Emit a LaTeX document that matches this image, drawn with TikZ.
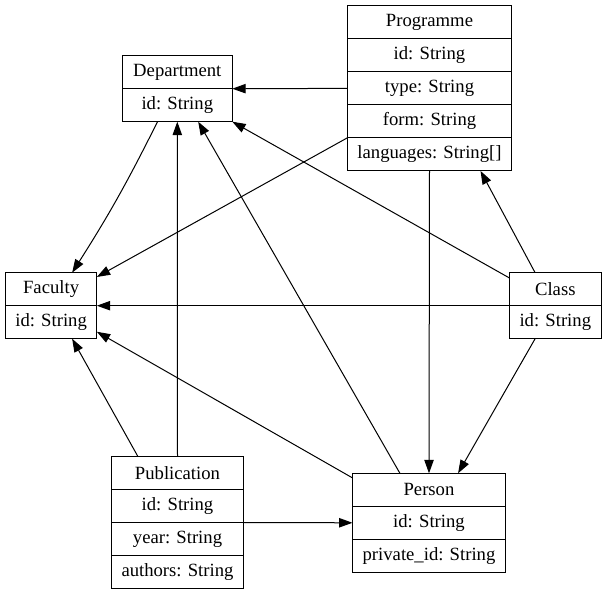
\documentclass[tikz,border=0pt]{standalone}
\usepackage{fontspec}
\setmainfont{Liberation Serif}
\usepackage{tikz}
\usetikzlibrary{calc}
\usetikzlibrary{positioning,arrows.meta}

\tikzset{
	record/.style={draw, inner sep=0pt, outer sep=0pt, minimum height=24.75pt,
		font=\fontsize{14pt}{17pt}\selectfont},
}

\begin{document}
\begin{tikzpicture}[x=0.75pt, y=-0.75pt, line width=0.75pt, >={Triangle[length=10pt,width=7pt]}]

	\useasboundingbox (0,0) rectangle (604,595);

	% department
	\node[record, minimum width=82.5pt] (dept) at (177.3,72.2) {Department};
	\node[record, minimum width=82.5pt, below=0pt of dept] (dept-id) {id: String};

	% programme
	\node[record, minimum width=123.4pt] (prog) at (429.5,22.4) {Programme};
	\node[record, minimum width=123.4pt, below=0pt of prog] (prog-id) {id: String};
	\node[record, minimum width=123.4pt, below=0pt of prog-id] (prog-type) {type: String};
	\node[record, minimum width=123.4pt, below=0pt of prog-type] (prog-form) {form: String};
	\node[record, minimum width=123.4pt, below=0pt of prog-form] (prog-lang) {languages: String[]};

	% faculty
	\node[record, minimum width=68.6pt] (fac) at (51.1,289.2) {Faculty};
	\node[record, minimum width=68.6pt, below=0pt of fac] (fac-id) {id: String};

	% class
	\node[record, minimum width=68.8pt] (cls) at (555.3,289.2) {Class};
	\node[record, minimum width=68.8pt, below=0pt of cls] (cls-id) {id: String};

	% publication
	\node[record, minimum width=99pt] (pub) at (177.5,473) {Publication};
	\node[record, minimum width=99pt, below=0pt of pub] (pub-id) {id: String};
	\node[record, minimum width=99pt, below=0pt of pub-id] (pub-year) {year: String};
	\node[record, minimum width=99pt, below=0pt of pub-year] (pub-auth) {authors: String};

	% person
	\node[record, minimum width=114.75pt] (pers) at (429,489.8) {Person};
	\node[record, minimum width=114.75pt, below=0pt of pers] (pers-id) {id: String};
	\node[record, minimum width=114.75pt, below=0pt of pers-id] (pers-pid) {private\_id: String};

	% edges into department
	\draw[->] (prog-type.west) -- (dept-id.north east);
	\draw[->] (pub.north) -- (dept-id.south);
	\draw[->] ($(pers.north west)!0.31!(pers.north east)$)
	-- ($(dept-id.south west)!0.69!(dept-id.south east)$);
	\draw[->] ($(cls.north west)!0.16!(cls.south west)$) -- (dept-id.south east);

	% edges into faculty
	\draw[->] ($(dept-id.south west)!0.32!(dept-id.south east)$)
	to[bend left=3] ($(fac.north west)!0.73!(fac.north east)$);
	\draw[->] (prog-lang.north west) -- ($(fac.north east)!0.13!(fac.south east)$);
	\draw[->] (cls-id.north west) -- (fac-id.north east);
	\draw[->] ($(pers.north west)!0.14!(pers.south west)$)
	-- ($(fac-id.north east)!0.79!(fac-id.south east)$);
	\draw[->] ($(pub.north west)!0.2!(pub.north east)$)
	-- ($(fac-id.south west)!0.73!(fac-id.south east)$);

	% edges into programme
	\draw[->] ($(cls.north west)!0.28!(cls.north east)$)
	-- ($(prog-lang.south west)!0.81!(prog-lang.south east)$);

	% edges into person
	\draw[->] (prog-lang.south) -- (pers.north);
	\draw[->] ($(cls-id.south west)!0.28!(cls-id.south east)$)
	-- ($(pers.north west)!0.69!(pers.north east)$);
	\draw[->] (pub-year.north east) -- (pers-id.west);

\end{tikzpicture}
\end{document}
